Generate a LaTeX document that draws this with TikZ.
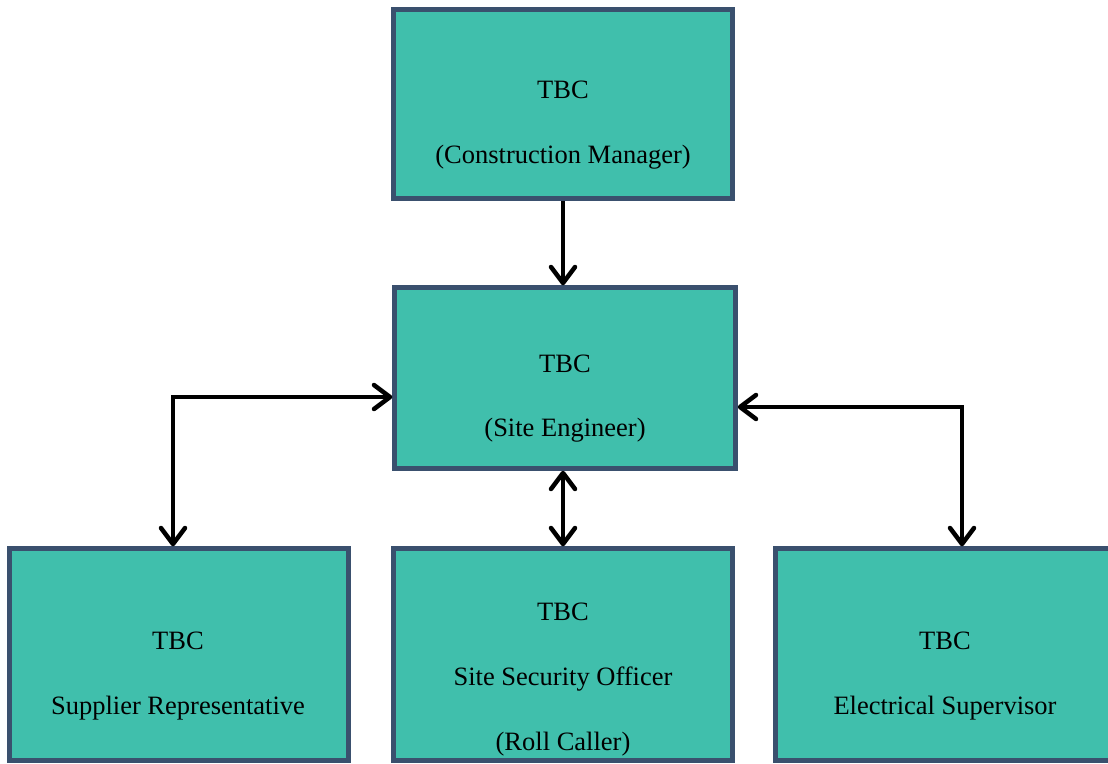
\documentclass[tikz,border=0pt]{standalone}
\usepackage{fontspec}
\setmainfont{Liberation Serif}
\usetikzlibrary{arrows.meta}
\definecolor{boxfill}{RGB}{64,191,172}
\definecolor{boxline}{RGB}{58,80,110}
\tikzset{
  orgbox/.style={draw=boxline, fill=boxfill, line width=4.5pt, rectangle, inner sep=0pt},
  lbl/.style={anchor=base, inner sep=0pt, font=\fontsize{26.5}{30}\selectfont},
  barb/.tip={Straight Barb[length=16pt,width=24pt,line width=4.5pt,round]},
  conn/.style={line width=4.5pt, black, line join=miter, barb-barb},
  conn1/.style={line width=4.5pt, black, -barb}
}
\begin{document}
\begin{tikzpicture}[x=1pt,y=-1pt]
\useasboundingbox (0,0) rectangle (1108,763);
\clip (0,0) rectangle (1108,763);
\fill[white] (0,0) rectangle (1108,763);
% boxes
\node[orgbox, minimum width=339pt, minimum height=189pt] (cm) at (563,104) {};
\node[orgbox, minimum width=341pt, minimum height=181pt] (se) at (565,378) {};
\node[orgbox, minimum width=339pt, minimum height=212pt] (sr) at (179,654.5) {};
\node[orgbox, minimum width=339pt, minimum height=212pt] (so) at (563,654.5) {};
\node[orgbox, minimum width=339pt, minimum height=212pt] (es) at (945,654.5) {};
% labels
\node[lbl] (t1) at (563,98) {TBC};
\node[lbl] (t2) at (563,163) {(Construction Manager)};
\node[lbl] (t3) at (565,372) {TBC};
\node[lbl] (t4) at (565,436) {(Site Engineer)};
\node[lbl] (t5) at (178,649) {TBC};
\node[lbl] (t6) at (178,714) {Supplier Representative};
\node[lbl] (t7) at (563,620) {TBC};
\node[lbl] (t8) at (563,685) {Site Security Officer};
\node[lbl] (t9) at (563,750) {(Roll Caller)};
\node[lbl] (t10) at (945,649) {TBC};
\node[lbl] (t11) at (945,714) {Electrical Supervisor};
% connectors
\coordinate (lc) at (173,397);
\coordinate (rc) at (962,407);
\draw[conn1] (cm.south -| 563,0) -- (se.north -| 563,0);
\draw[conn] (se.west |- lc) -- (lc) -- (sr.north -| lc);
\draw[conn] (se.east |- rc) -- (rc) -- (es.north -| rc);
\draw[conn] (se.south -| 563,0) -- (so.north -| 563,0);
\end{tikzpicture}
\end{document}
